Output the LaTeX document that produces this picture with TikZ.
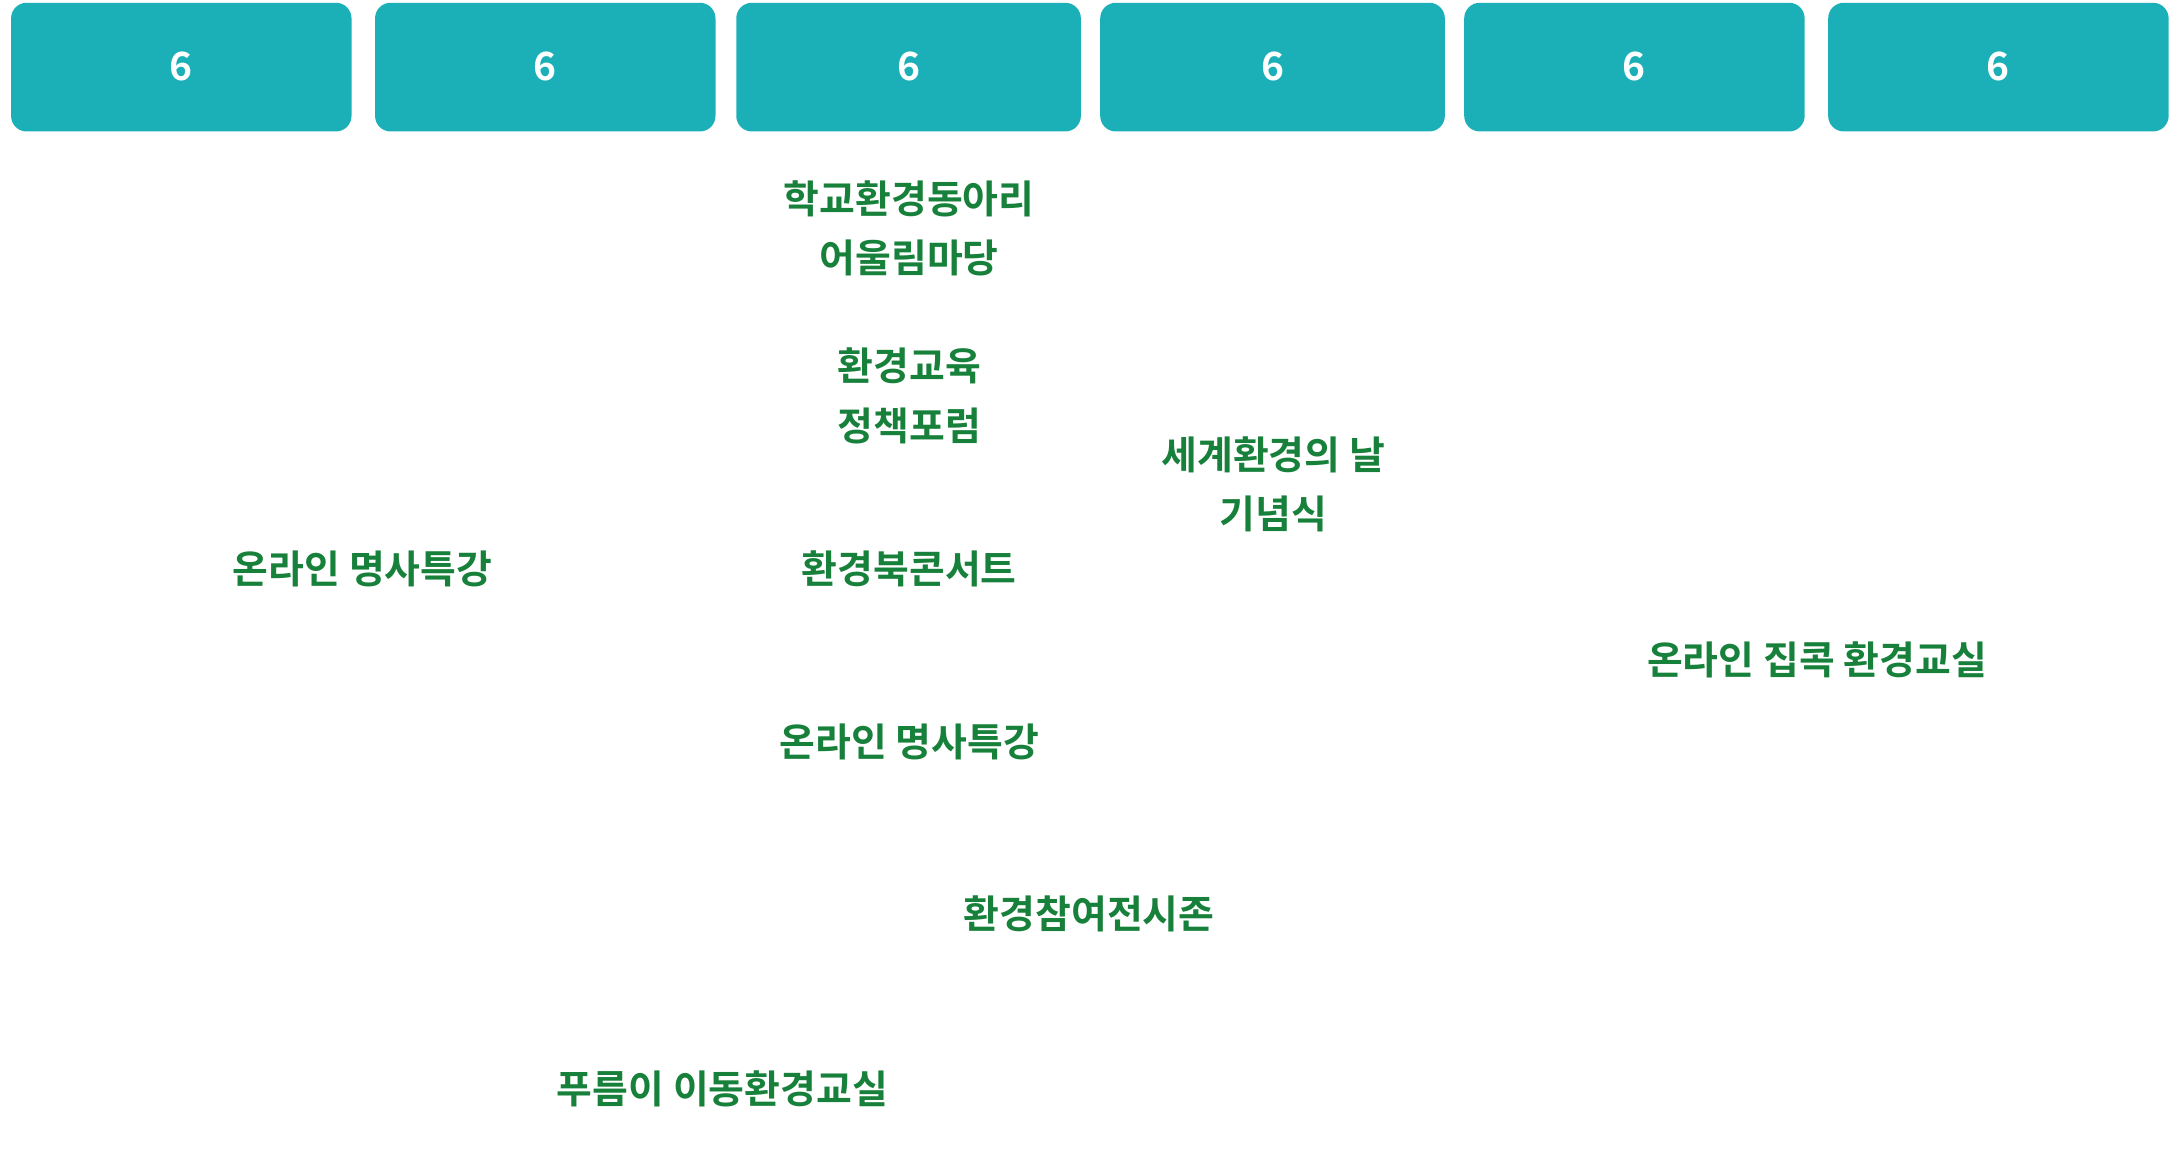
\documentclass[tikz,border=0pt]{standalone}
\usepackage{fontspec}
\newfontfamily\kr{Noto Sans CJK KR}[BoldFont={* Bold}]
\definecolor{teal1}{HTML}{1BB0B8}
\definecolor{grn}{HTML}{17803A}
\begin{document}
\begin{tikzpicture}[x=0.05cm,y=-0.05cm,
 hdr/.style={fill=teal1,rounded corners=16pt,text=white,font=\kr\bfseries\fontsize{40}{44}\selectfont},
 ev/.style={text=grn,align=center,font=\kr\bfseries\fontsize{40}{61}\selectfont,inner sep=0}]
\useasboundingbox (0,0) rectangle (1568,849);
\foreach \a/\b/\t [count=\i] in {8/254/6/2(월),271/517/6/3(화),532/781/6/4(수),795/1044/6/5(목),1058/1304/6/7(토),1321/1567/6/8(일)}{
  \path[hdr] (\a,2) rectangle (\b,95);
  \node[text=white,font=\kr\bfseries\fontsize{40}{44}\selectfont] (h\i) at ({(\a+\b)/2},48) {\t};
}
\node[ev] (e1) at (657,165) {학교환경동아리\\어울림마당};
\node[ev] (e2) at (657,286) {환경교육\\정책포럼};
\node[ev] (e3) at (920,350) {세계환경의 날\\기념식};
\node[ev] (e4) at (262,411) {온라인 명사특강};
\node[ev] (e5) at (657,411) {환경북콘서트};
\node[ev] (e6) at (1313,477) {온라인 집콕 환경교실};
\node[ev] (e7) at (657,536) {온라인 명사특강};
\node[ev] (e8) at (787,660) {환경참여전시존};
\node[ev] (e9) at (522,787) {푸름이 이동환경교실};
\end{tikzpicture}
\end{document}
